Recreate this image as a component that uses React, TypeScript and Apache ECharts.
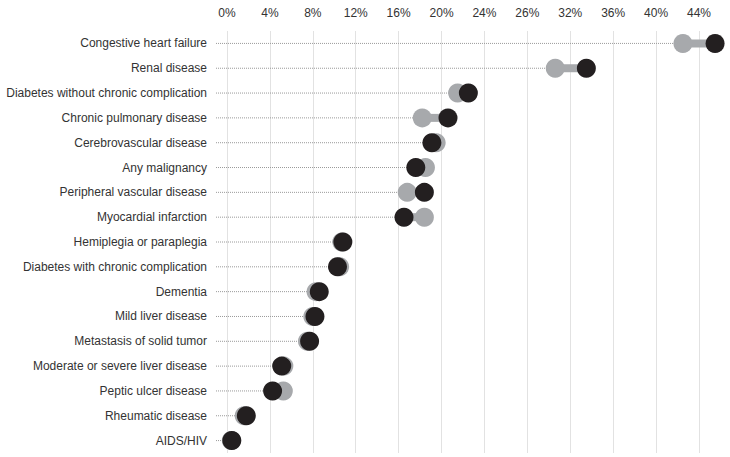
import React, { useEffect, useRef } from "react";
import * as echarts from "echarts";

const categories = [
  "Congestive heart failure",
  "Renal disease",
  "Diabetes without chronic complication",
  "Chronic pulmonary disease",
  "Cerebrovascular disease",
  "Any malignancy",
  "Peripheral vascular disease",
  "Myocardial infarction",
  "Hemiplegia or paraplegia",
  "Diabetes with chronic complication",
  "Dementia",
  "Mild liver disease",
  "Metastasis of solid tumor",
  "Moderate or severe liver disease",
  "Peptic ulcer disease",
  "Rheumatic disease",
  "AIDS/HIV",
];

// grey dots
const groupA = [42.5, 30.6, 21.5, 18.2, 19.5, 18.5, 16.8, 18.4, 10.7, 10.5, 8.3, 8.0, 7.5, 5.3, 5.25, 1.6, 0.4];
// dark dots
const groupB = [45.5, 33.5, 22.5, 20.6, 19.1, 17.6, 18.4, 16.5, 10.8, 10.3, 8.6, 8.2, 7.7, 5.1, 4.25, 1.8, 0.45];

const tickLabels = ["0%", "4%", "8%", "12%", "16%", "20%", "24%", "26%", "32%", "36%", "40%", "44%"];

const GREY = "#a7a9ac";
const DARK = "#231f20";

export default function App() {
  const ref = useRef<HTMLDivElement>(null);

  useEffect(() => {
    if (!ref.current) return;
    const chart = echarts.init(ref.current, null, { renderer: "svg" });

    const lineData = categories.map((_, i) => [groupA[i], groupB[i], i]);

    chart.setOption({
      animation: false,
      grid: { left: 227, right: 31, top: 31, bottom: 4, containLabel: false },
      xAxis: {
        type: "value",
        position: "top",
        min: 0,
        max: 44,
        interval: 4,
        axisLine: { show: false },
        axisTick: { show: false },
        splitLine: { show: true, lineStyle: { color: "#e2e2e2", width: 1 } },
        axisLabel: {
          margin: 12,
          fontSize: 12,
          color: "#333",
          fontFamily: "Liberation Sans, Arial, sans-serif",
          formatter: (v: number) => tickLabels[Math.round(v / 4)] ?? "",
        },
      },
      yAxis: {
        type: "category",
        inverse: true,
        data: categories,
        axisLine: { show: false },
        axisTick: { show: false },
        splitLine: { show: false },
        axisLabel: {
          margin: 20,
          fontSize: 12,
          color: "#333",
          fontFamily: "Liberation Sans, Arial, sans-serif",
        },
      },
      series: [
        {
          type: "custom",
          clip: false,
          z: 1,
          encode: { x: [0, 1], y: 2 },
          data: lineData,
          renderItem: (params: any, api: any) => {
            const a = api.value(0);
            const b = api.value(1);
            const idx = api.value(2);
            const pa = api.coord([a, idx]);
            const pb = api.coord([b, idx]);
            const p0 = api.coord([0, idx]);
            const y = pa[1];
            const left = Math.min(pa[0], pb[0]);
            const right = Math.max(pa[0], pb[0]);
            return {
              type: "group",
              children: [
                {
                  type: "line",
                  shape: { x1: p0[0] - 11, y1: y, x2: left, y2: y },
                  style: { stroke: "#9a9a9a", lineWidth: 1, lineDash: [1, 1] },
                },
                {
                  type: "line",
                  shape: { x1: left, y1: y, x2: right, y2: y },
                  style: { stroke: GREY, lineWidth: 8 },
                },
              ],
            };
          },
        },
        {
          type: "scatter",
          clip: false,
          z: 2,
          symbolSize: 19,
          itemStyle: { color: GREY, opacity: 1 },
          data: groupA.map((v, i) => [v, i]),
        },
        {
          type: "scatter",
          clip: false,
          z: 3,
          symbolSize: 19,
          itemStyle: { color: DARK, opacity: 1 },
          data: groupB.map((v, i) => [v, i]),
        },
      ],
    });

    return () => chart.dispose();
  }, []);

  return (
    <div
      ref={ref}
      style={{ position: "fixed", left: 0, top: 0, width: 730, height: 457, background: "#fff" }}
    />
  );
}
